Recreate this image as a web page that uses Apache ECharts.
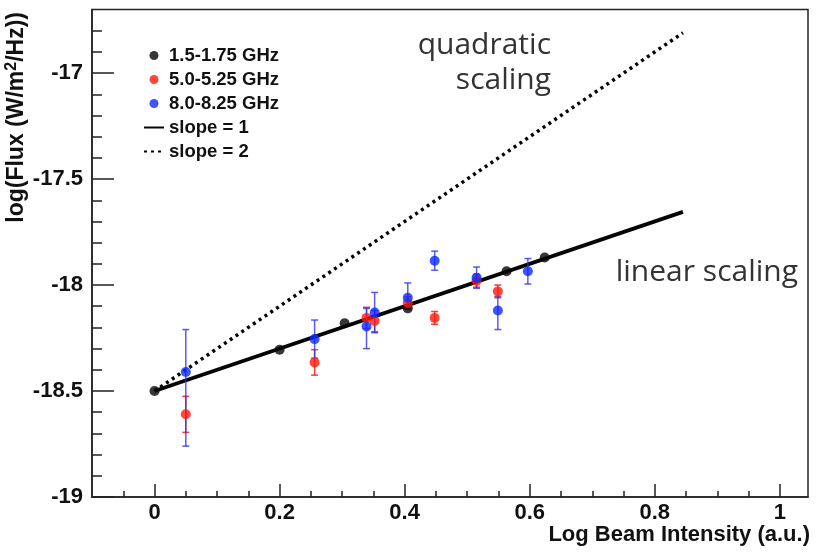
<!DOCTYPE html>
<html>
<head>
<meta charset="utf-8">
<script src="https://cdn.jsdelivr.net/npm/echarts@6/dist/echarts.min.js"></script>
<style>
html,body{margin:0;padding:0;background:#fff;}
#chart{width:816px;height:556px;}
</style>
</head>
<body>
<div id="chart"></div>
<script>
// ---- data ----
const xBlack = [0, 0.2, 0.304, 0.405, 0.563, 0.624];
const yBlack = [-18.5, -18.305, -18.18, -18.11, -17.935, -17.87];

const xRed = [0.05, 0.256, 0.339, 0.352, 0.405, 0.448, 0.515, 0.549];
const yRed = [-18.61, -18.365, -18.155, -18.17, -18.085, -18.155, -17.98, -18.03];
const errRed = [0.085, 0.06, 0.05, 0.05, 0.03, 0.03, 0.03, 0.03];

const xBlue = [0.05, 0.256, 0.339, 0.352, 0.405, 0.448, 0.515, 0.549, 0.597];
const yBlue = [-18.41, -18.255, -18.195, -18.13, -18.06, -17.885, -17.965, -18.12, -17.935];
const errBlueLow = [0.35, 0.09, 0.105, 0.095, 0.05, 0.045, 0.05, 0.09, 0.06];
const errBlueHigh = [0.2, 0.09, 0.085, 0.095, 0.07, 0.045, 0.05, 0.066, 0.06];

const slopeOneLine = [[0, -18.5], [0.845, -17.655]];
const slopeTwoLine = [[0, -18.5], [0.845, -16.81]];

const seriesNames = ['1.5-1.75 GHz', '5.0-5.25 GHz', '8.0-8.25 GHz', 'slope = 1', 'slope = 2'];

const xMajorTicks = [0, 0.2, 0.4, 0.6, 0.8, 1];
const xTickLabels = ['0', '0.2', '0.4', '0.6', '0.8', '1'];
const xMinorTicks = [-0.05, 0.05, 0.1, 0.15, 0.25, 0.3, 0.35, 0.45, 0.5, 0.55, 0.65, 0.7, 0.75, 0.85, 0.9, 0.95];
const yMajorTicks = [-19, -18.5, -18, -17.5, -17];
const yTickLabels = ['-19', '-18.5', '-18', '-17.5', '-17'];
const yMinorTicks = [-18.9, -18.8, -18.7, -18.6, -18.4, -18.3, -18.2, -18.1, -17.9, -17.8, -17.7, -17.6, -17.4, -17.3, -17.2, -17.1, -16.9, -16.8];

const xTitle = 'Log Beam Intensity (a.u.)';
const annotQuad = ['quadratic', 'scaling'];
const annotLin = 'linear scaling';

// ---- helpers ----
function zip(xs, ys) { return xs.map((x, i) => [x, ys[i]]); }
function errData(xs, ys, lo, hi) { return xs.map((x, i) => [x, ys[i] - lo[i], ys[i] + hi[i]]); }
function labelFor(ticks, labels) { return v => { const i = ticks.findIndex(t => Math.abs(t - v) < 1e-6); return i >= 0 ? labels[i] : ''; }; }

function errRender(color) {
  return function (params, api) {
    const x = api.value(0);
    const p1 = api.coord([x, api.value(1)]);
    const p2 = api.coord([x, api.value(2)]);
    const cw = 3.5;
    const st = { stroke: color, lineWidth: 1.5 };
    return {
      type: 'group',
      children: [
        { type: 'line', shape: { x1: p1[0], y1: p1[1], x2: p2[0], y2: p2[1] }, style: st },
        { type: 'line', shape: { x1: p1[0] - cw, y1: p1[1], x2: p1[0] + cw, y2: p1[1] }, style: st },
        { type: 'line', shape: { x1: p2[0] - cw, y1: p2[1], x2: p2[0] + cw, y2: p2[1] }, style: st }
      ]
    };
  };
}

const FONT = 'Liberation Sans';
const AX = '#222';
const BLACK = '#050505', RED = '#ff1a0a', BLUE = '#0b2bff';

const chart = echarts.init(document.getElementById('chart'), null, { renderer: 'canvas' });

const axisLabelStyle = { fontFamily: FONT, fontWeight: 'bold', fontSize: 22, color: '#111' };
const hiddenSymbol = { opacity: 0, color: 'transparent', borderWidth: 0 };

chart.setOption({
  animation: false,
  backgroundColor: '#fff',
  grid: { left: 92, right: 8, top: 9.5, bottom: 59, show: true, borderColor: AX, borderWidth: 1.5, backgroundColor: 'transparent' },
  legend: {
    orient: 'vertical', left: 138, top: 41,
    itemWidth: 20, itemHeight: 9, itemGap: 5,
    textStyle: { fontFamily: FONT, fontWeight: 'bold', fontSize: 18.5, lineHeight: 19, color: '#111' },
    data: [
      { name: seriesNames[0] },
      { name: seriesNames[1] },
      { name: seriesNames[2] },
      { name: seriesNames[3], itemStyle: hiddenSymbol },
      { name: seriesNames[4], itemStyle: hiddenSymbol }
    ]
  },
  xAxis: [
    {
      type: 'value', min: -0.1, max: 1.045,
      axisLine: { show: true, onZero: false, lineStyle: { color: AX, width: 1.5 } },
      axisTick: { show: true, inside: true, length: 13, customValues: xMajorTicks, lineStyle: { color: AX, width: 1.5 } },
      axisLabel: Object.assign({ show: true, margin: 5, customValues: xMajorTicks, formatter: labelFor(xMajorTicks, xTickLabels) }, axisLabelStyle),
      splitLine: { show: false }
    },
    {
      type: 'value', min: -0.1, max: 1.045, position: 'bottom', gridIndex: 0,
      axisLine: { show: false, onZero: false },
      axisTick: { show: true, inside: true, length: 6, customValues: xMinorTicks, lineStyle: { color: AX, width: 1.5 } },
      axisLabel: { show: false },
      splitLine: { show: false }
    }
  ],
  yAxis: [
    {
      type: 'value', min: -19, max: -16.7,
      axisLine: { show: true, onZero: false, lineStyle: { color: AX, width: 1.5 } },
      axisTick: { show: true, inside: true, length: 22, customValues: yMajorTicks, lineStyle: { color: AX, width: 1.5 } },
      axisLabel: Object.assign({ show: true, margin: 9, customValues: yMajorTicks, formatter: labelFor(yMajorTicks, yTickLabels) }, axisLabelStyle),
      splitLine: { show: false }
    },
    {
      type: 'value', min: -19, max: -16.7, position: 'left', gridIndex: 0,
      axisLine: { show: false, onZero: false },
      axisTick: { show: true, inside: true, length: 10, customValues: yMinorTicks, lineStyle: { color: AX, width: 1.5 } },
      axisLabel: { show: false },
      splitLine: { show: false }
    }
  ],
  series: [
    {
      name: seriesNames[4], type: 'line', data: slopeTwoLine, symbol: 'none', z: 2,
      lineStyle: { color: BLACK, width: 3.5, type: [3, 4], cap: 'butt' }, itemStyle: { color: BLACK }
    },
    {
      name: seriesNames[3], type: 'line', data: slopeOneLine, symbol: 'none', z: 3,
      lineStyle: { color: BLACK, width: 3.8, type: 'solid' }, itemStyle: { color: BLACK }
    },
    {
      type: 'custom', renderItem: errRender('rgba(235,30,30,0.85)'), z: 4,
      data: errData(xRed, yRed, errRed, errRed), encode: { x: 0, y: [1, 2] }, silent: true
    },
    {
      type: 'custom', renderItem: errRender('rgba(50,50,230,0.8)'), z: 4,
      data: errData(xBlue, yBlue, errBlueLow, errBlueHigh), encode: { x: 0, y: [1, 2] }, silent: true
    },
    {
      name: seriesNames[0], type: 'scatter', data: zip(xBlack, yBlack), symbol: 'circle', symbolSize: 10, z: 5,
      itemStyle: { color: BLACK }
    },
    {
      name: seriesNames[1], type: 'scatter', data: zip(xRed, yRed), symbol: 'circle', symbolSize: 10, z: 5,
      itemStyle: { color: RED }
    },
    {
      name: seriesNames[2], type: 'scatter', data: zip(xBlue, yBlue), symbol: 'circle', symbolSize: 10, z: 6,
      itemStyle: { color: BLUE }
    }
  ],
  graphic: [
    {
      type: 'text', x: 17, y: 12, rotation: Math.PI / 2,
      style: {
        text: 'log(Flux (W/m{sup|2}/Hz))',
        align: 'right', verticalAlign: 'middle',
        fontFamily: FONT, fontWeight: 'bold', fontSize: 23, fill: '#111',
        rich: { sup: { fontFamily: FONT, fontWeight: 'bold', fontSize: 16, verticalAlign: 'top', padding: [0, 0, 10, 0] } }
      }
    },
    {
      type: 'text', x: 810, y: 535,
      style: { text: xTitle, align: 'right', verticalAlign: 'middle', fontFamily: FONT, fontWeight: 'bold', fontSize: 22, fill: '#111' }
    },
    {
      type: 'text', x: 551, y: 45,
      style: { text: annotQuad[0], align: 'right', verticalAlign: 'middle', fontFamily: 'Open Sans', fontSize: 30, fill: '#333' }
    },
    {
      type: 'text', x: 551, y: 80,
      style: { text: annotQuad[1], align: 'right', verticalAlign: 'middle', fontFamily: 'Open Sans', fontSize: 30, fill: '#333' }
    },
    {
      type: 'text', x: 798, y: 272,
      style: { text: annotLin, align: 'right', verticalAlign: 'middle', fontFamily: 'Open Sans', fontSize: 30, fill: '#333' }
    }
  ]
});
</script>
</body>
</html>
